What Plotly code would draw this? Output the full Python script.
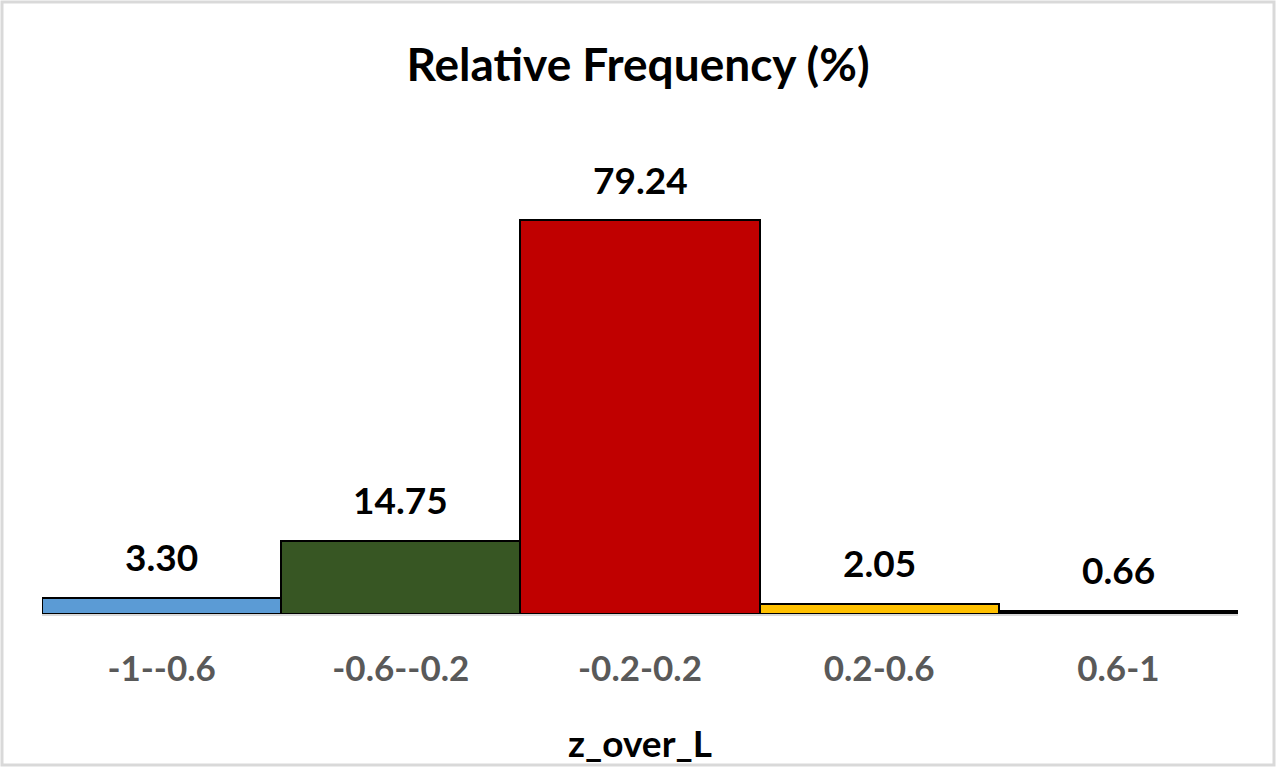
import plotly.graph_objects as go

categories = ["-1--0.6", "-0.6--0.2", "-0.2-0.2", "0.2-0.6", "0.6-1"]
values = [3.30, 14.75, 79.24, 2.05, 0.66]
colors = ["#5B9BD5", "#375623", "#C00000", "#FFC000", "#000000"]

W, H = 1276, 767
ml, mr, mt, mb = 42, 38, 167, 153
FONT = "Lato, Open Sans, sans-serif"

fig = go.Figure(go.Bar(
    x=categories, y=values,
    marker=dict(color=colors, line=dict(color="#000000", width=2)),
    cliponaxis=False, width=1.0,
))

for c, v in zip(categories, values):
    fig.add_annotation(x=c, y=v, text=f"<b>{v:.2f}</b>", showarrow=False,
                       yanchor="middle", yshift=41,
                       font=dict(family=FONT, size=37, color="#000000"))

pw, ph = W - ml - mr, H - mt - mb
fig.add_annotation(xref="paper", yref="paper", x=0.5, y=-(742 - (H - mb)) / ph,
                   text="<b>z_over_L</b>", showarrow=False, yanchor="middle",
                   font=dict(family=FONT, size=37, color="#000000"))

fig.add_shape(type="rect", xref="paper", yref="paper",
              x0=-(ml - 2) / pw, x1=1 + (mr - 2) / pw,
              y0=-(mb - 2) / ph, y1=1 + (mt - 2) / ph,
              line=dict(color="#D9D9D9", width=3), layer="below")

fig.update_layout(
    width=W, height=H,
    margin=dict(l=ml, r=mr, t=mt, b=mb),
    paper_bgcolor="white", plot_bgcolor="white",
    bargap=0,
    showlegend=False,
    title=dict(text="<b>Relative Frequency (%)</b>", x=0.5, xanchor="center",
               y=1 - 65 / H, yanchor="middle",
               font=dict(family=FONT, size=46, color="#000000")),
    xaxis=dict(
        showline=True, linecolor="#D9D9D9", linewidth=2, layer="below traces",
        ticks="", showgrid=False, ticklabelstandoff=23,
        tickfont=dict(family=FONT, size=35, color="#595959"),
        tickprefix="<b>", ticksuffix="</b>",
    ),
    yaxis=dict(range=[0, 90], visible=False, showgrid=False, zeroline=False),
)

fig.write_html("out.html")
